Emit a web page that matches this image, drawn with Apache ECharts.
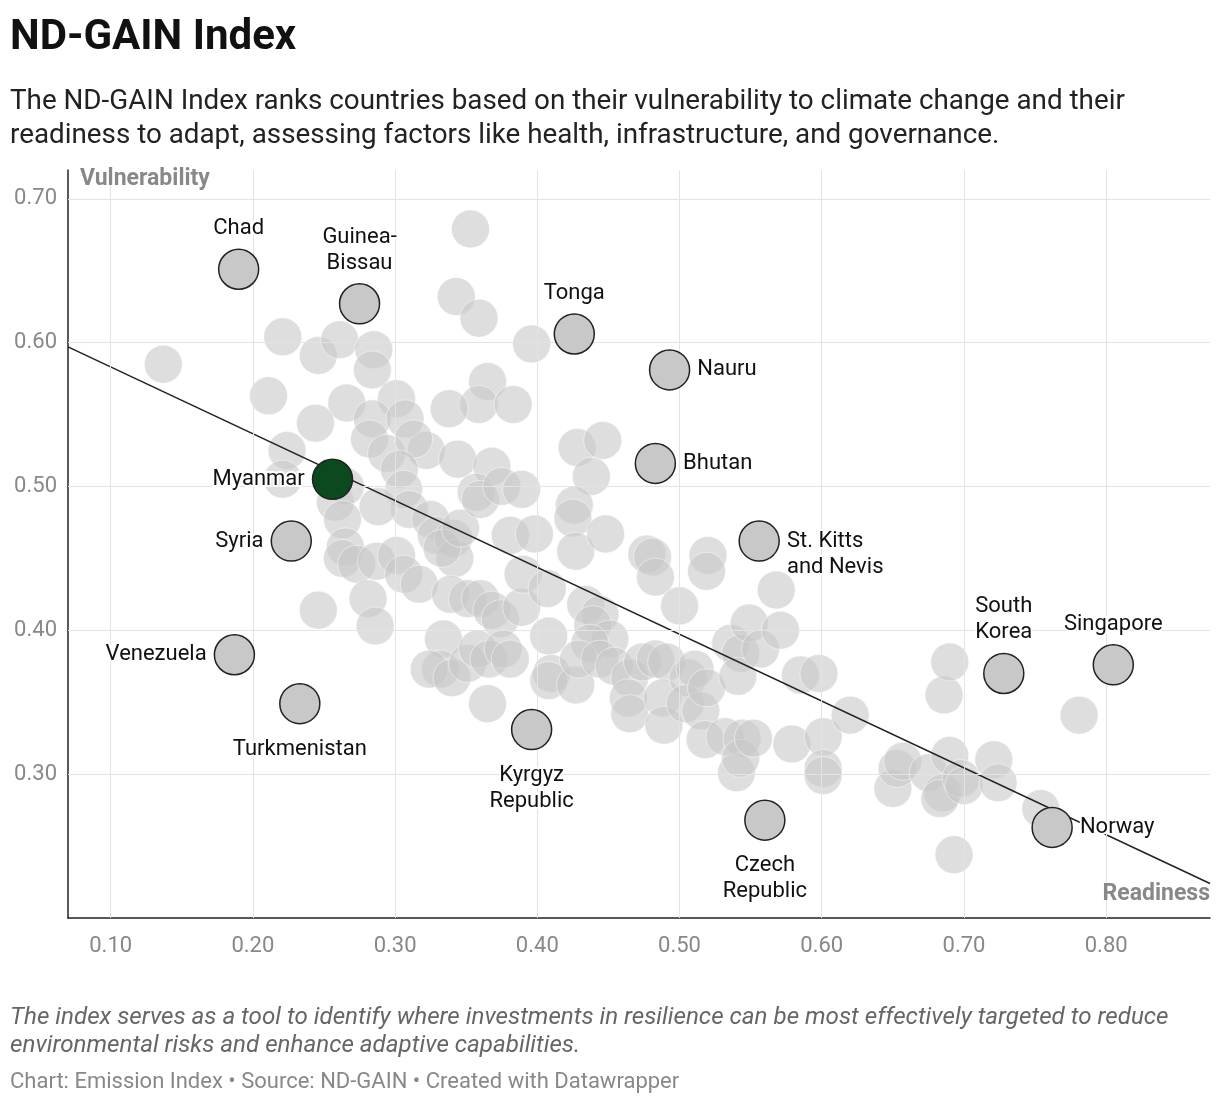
<!DOCTYPE html>
<html><head><meta charset="utf-8">
<script src="https://cdn.jsdelivr.net/npm/echarts@6/dist/echarts.min.js"></script>
<style>body{margin:0;background:#fff}#c{width:1220px;height:1102px}</style>
</head><body><div id="c"></div>
<script>
const grayPoints = [
[0.137,0.585],[0.211,0.563],[0.221,0.604],[0.246,0.591],[0.261,0.602],[0.285,0.595],[0.284,0.581],[0.266,0.558],[0.244,0.544],[0.224,0.525],[0.221,0.505],
[0.301,0.561],[0.284,0.547],[0.307,0.547],[0.282,0.533],[0.294,0.523],[0.322,0.525],[0.313,0.533],[0.303,0.512],[0.258,0.489],[0.265,0.500],[0.306,0.498],
[0.310,0.484],[0.288,0.486],[0.263,0.477],[0.265,0.458],[0.263,0.450],[0.273,0.446],[0.287,0.448],[0.301,0.452],[0.306,0.439],[0.317,0.432],[0.325,0.477],
[0.329,0.466],[0.341,0.464],[0.342,0.450],[0.333,0.457],[0.346,0.471],[0.281,0.422],[0.286,0.403],[0.246,0.414],[0.339,0.425],[0.351,0.422],[0.360,0.422],
[0.368,0.414],[0.374,0.408],[0.389,0.416],[0.334,0.394],[0.332,0.373],[0.324,0.373],[0.340,0.367],[0.351,0.377],[0.358,0.387],[0.366,0.380],[0.376,0.387],
[0.381,0.380],[0.365,0.349],[0.343,0.632],[0.353,0.679],[0.359,0.617],[0.365,0.573],[0.359,0.557],[0.338,0.554],[0.383,0.557],[0.396,0.599],[0.344,0.519],
[0.368,0.514],[0.357,0.496],[0.360,0.491],[0.375,0.500],[0.389,0.498],[0.381,0.466],[0.398,0.467],[0.390,0.439],[0.407,0.429],[0.408,0.396],[0.410,0.370],
[0.408,0.365],[0.427,0.362],[0.428,0.527],[0.446,0.532],[0.438,0.507],[0.426,0.487],[0.425,0.478],[0.427,0.455],[0.448,0.467],[0.434,0.418],[0.444,0.411],
[0.439,0.404],[0.451,0.394],[0.437,0.391],[0.429,0.380],[0.444,0.380],[0.454,0.375],[0.465,0.367],[0.464,0.353],[0.465,0.342],[0.477,0.453],[0.481,0.451],
[0.483,0.437],[0.474,0.378],[0.483,0.380],[0.491,0.378],[0.488,0.353],[0.489,0.334],[0.500,0.417],[0.506,0.367],[0.511,0.373],[0.504,0.349],[0.515,0.344],
[0.519,0.360],[0.518,0.324],[0.520,0.452],[0.519,0.441],[0.532,0.326],[0.536,0.391],[0.543,0.384],[0.541,0.368],[0.544,0.325],[0.540,0.301],[0.543,0.311],
[0.549,0.405],[0.552,0.325],[0.557,0.387],[0.568,0.428],[0.571,0.400],[0.579,0.321],[0.585,0.369],[0.598,0.370],[0.601,0.326],[0.601,0.304],[0.601,0.299],
[0.620,0.341],[0.650,0.290],[0.653,0.304],[0.657,0.309],[0.675,0.301],[0.685,0.287],[0.683,0.283],[0.686,0.355],[0.690,0.378],[0.690,0.313],[0.698,0.297],
[0.700,0.292],[0.693,0.244],[0.721,0.310],[0.724,0.294],[0.754,0.276],[0.781,0.341]
];
const labeledNames = ["Chad","Guinea-\nBissau","Tonga","Nauru","Bhutan","Syria","St. Kitts\nand Nevis","Venezuela","Turkmenistan","Kyrgyz\nRepublic","Czech\nRepublic","South\nKorea","Singapore","Norway"];
const labeledX = [0.190,0.275,0.426,0.493,0.483,0.227,0.556,0.187,0.233,0.396,0.560,0.728,0.805,0.762];
const labeledY = [0.651,0.627,0.606,0.581,0.516,0.462,0.462,0.383,0.349,0.331,0.268,0.370,0.376,0.263];
const labelPos = ["top","top","top","right","right","left","right","left","bottom","bottom","bottom","top","top","right"];
const highlight = {name:"Myanmar", x:0.256, y:0.505};
const trend = [[0.07,0.597],[0.873,0.224]];
const xTicks = [0.1,0.2,0.3,0.4,0.5,0.6,0.7,0.8];
const yTicks = [0.3,0.4,0.5,0.6,0.7];

const F = 'Roboto';
const chart = echarts.init(document.getElementById('c'));
const halo = {textBorderColor:'#fff', textBorderWidth:4};
const labeled = labeledNames.map((n,i)=>{
  const p = labelPos[i];
  const lab = Object.assign({show:true, position:p, formatter:n, color:'#111', fontFamily:F, fontSize:22, lineHeight:26, distance:p==='bottom'?12:7}, halo);
  if (p==='right' && n.includes('\n')) { lab.offset=[0,13]; }
  return {value:[labeledX[i],labeledY[i]], label:lab};
});
chart.setOption({
  animation:false,
  title:[
    {text:'ND-GAIN Index', left:5, top:12, textStyle:{fontFamily:F, fontSize:42, fontWeight:'bold', color:'#111'}},
    {text:'The ND-GAIN Index ranks countries based on their vulnerability to climate change and their\nreadiness to adapt, assessing factors like health, infrastructure, and governance.', left:5, top:80, textStyle:{fontFamily:F, fontSize:27.8, fontWeight:'normal', color:'#222', lineHeight:34}},
    {text:'The index serves as a tool to identify where investments in resilience can be most effectively targeted to reduce\nenvironmental risks and enhance adaptive capabilities.', left:5, top:999, textStyle:{fontFamily:F, fontSize:24.2, fontStyle:'italic', fontWeight:'normal', color:'#666', lineHeight:28}},
    {text:'Chart: Emission Index • Source: ND-GAIN • Created with Datawrapper', left:5, top:1066, textStyle:{fontFamily:F, fontSize:22, fontWeight:'normal', color:'#888'}}
  ],
  graphic:[
    {type:'text', left:80, top:168, z:100, style:{text:'Vulnerability', font:'bold 23px Roboto', fill:'#888'}},
    {type:'text', right:10, top:883, z:100, style:{text:'Readiness', font:'bold 23px Roboto', fill:'#888'}}
  ],
  grid:{left:68, right:10, top:170, bottom:184},
  xAxis:{type:'value', min:0.07, max:0.873,
    axisLine:{show:true, lineStyle:{color:'#222', width:1.5}},
    axisTick:{show:false},
    splitLine:{show:false},
    axisLabel:{customValues:xTicks, formatter:v=>v.toFixed(2), color:'#888', fontFamily:F, fontSize:22, margin:17}},
  yAxis:{type:'value', min:0.2, max:0.72, interval:0.1,
    axisLine:{show:true, lineStyle:{color:'#222', width:1.5}},
    axisTick:{show:false},
    splitLine:{show:false},
    axisLabel:{customValues:yTicks, formatter:v=>v.toFixed(2), color:'#888', fontFamily:F, fontSize:22, margin:11}},
  series:[
    {type:'line', data:[], markLine:{silent:true, symbol:'none', label:{show:false}, lineStyle:{color:'#e3e3e3', type:'solid', width:1},
      data:[...xTicks.map(v=>({xAxis:v})), ...yTicks.map(v=>({yAxis:v}))]}},
    {type:'scatter', data:grayPoints, symbolSize:38, itemStyle:{color:'rgba(200,200,200,0.75)', borderColor:'rgba(255,255,255,0.6)', borderWidth:1}, z:2},
    {type:'line', data:trend, symbol:'none', lineStyle:{color:'#222', width:1.5}, z:3},
    {type:'scatter', data:labeled, symbolSize:40, zlevel:1, itemStyle:{color:'#c8c8c8', borderColor:'#222', borderWidth:1.5, opacity:1}, z:4},
    {type:'scatter', zlevel:1, data:[{value:[highlight.x,highlight.y], label:Object.assign({show:true, position:'left', formatter:highlight.name, color:'#111', fontFamily:F, fontSize:22, distance:7}, halo)}], symbolSize:40, itemStyle:{color:'#0b4a1e', borderColor:'#222', borderWidth:1.5, opacity:1}, z:5}
  ]
});
</script></body></html>
